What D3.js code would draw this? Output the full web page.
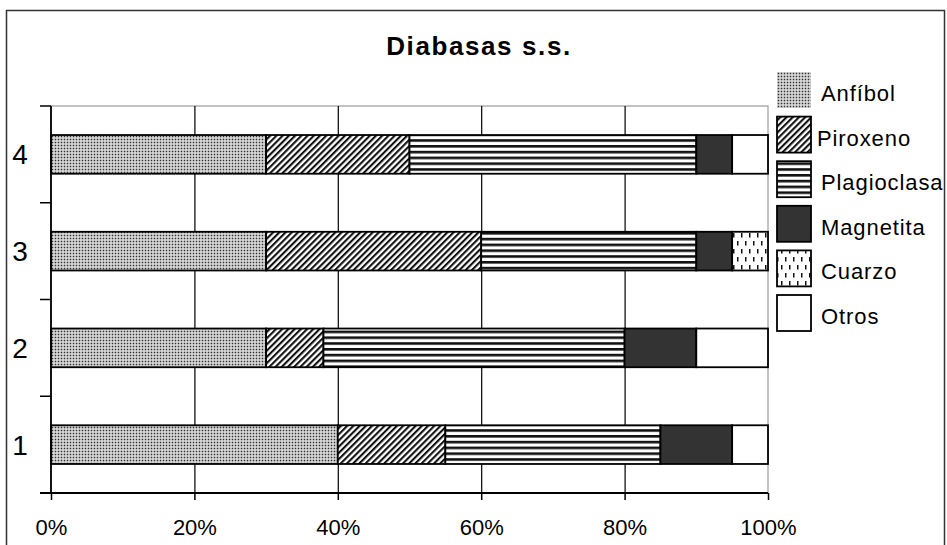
<!DOCTYPE html>
<html><head><meta charset="utf-8">
<script src="https://cdn.jsdelivr.net/npm/d3@7"></script>
<style>
body{margin:0;background:#fff}
svg{display:block}
text{font-family:"Liberation Sans",Arial,sans-serif;fill:#000}
</style>
</head><body><svg id="c" width="947" height="545"></svg>
<script>
// ---------- data ----------
const categories = ["1", "2", "3", "4"];
const seriesNames = ["Anfíbol", "Piroxeno", "Plagioclasa", "Magnetita", "Cuarzo", "Otros"];
const anfibol     = [40, 30, 30, 30];
const piroxeno    = [15,  8, 30, 20];
const plagioclasa = [30, 42, 30, 40];
const magnetita   = [10, 10,  5,  5];
const cuarzo      = [ 0,  0,  5,  0];
const otros       = [ 5, 10,  0,  5];
const xTickValues = [0, 20, 40, 60, 80, 100];
const chartTitle = "Diabasas s.s.";

const seriesValues = [anfibol, piroxeno, plagioclasa, magnetita, cuarzo, otros];
const table = categories.map((c, i) => {
  const row = {cat: c};
  seriesNames.forEach((s, j) => row[s] = seriesValues[j][i]);
  return row;
});

// ---------- layout ----------
const plot = {left: 51, right: 768, top: 106, bottom: 493};
const svg = d3.select("#c");

// outer frame
svg.append("rect").attr("x", 6.5).attr("y", 10.5).attr("width", 938).attr("height", 560)
  .attr("fill", "#fff").attr("stroke", "#333").attr("stroke-width", 1.5);

// ---------- patterns ----------
const defs = svg.append("defs");
const pDots = defs.append("pattern").attr("id", "p-dots").attr("patternUnits", "userSpaceOnUse")
  .attr("width", 3).attr("height", 3);
pDots.append("rect").attr("width", 3).attr("height", 3).attr("fill", "#e4e4e4");
pDots.append("rect").attr("x", 0.7).attr("y", 0.7).attr("width", 1.6).attr("height", 1.6).attr("fill", "#333");

const pDiag = defs.append("pattern").attr("id", "p-diag").attr("patternUnits", "userSpaceOnUse")
  .attr("width", 4.4).attr("height", 4.4).attr("patternTransform", "rotate(45)");
pDiag.append("rect").attr("width", 4.4).attr("height", 4.4).attr("fill", "#fff");
pDiag.append("rect").attr("width", 2.1).attr("height", 4.4).attr("fill", "#111");

const pH = defs.append("pattern").attr("id", "p-hlines").attr("patternUnits", "userSpaceOnUse")
  .attr("width", 8).attr("height", 5.8);
pH.append("rect").attr("width", 8).attr("height", 5.8).attr("fill", "#fff");
pH.append("rect").attr("y", 0).attr("width", 8).attr("height", 2.6).attr("fill", "#111");

const pQ = defs.append("pattern").attr("id", "p-cuarzo").attr("patternUnits", "userSpaceOnUse")
  .attr("width", 8).attr("height", 16);
pQ.append("rect").attr("width", 8).attr("height", 16).attr("fill", "#fff");
pQ.append("rect").attr("x", 1).attr("y", 1).attr("width", 1.5).attr("height", 4.5).attr("fill", "#111");
pQ.append("rect").attr("x", 5).attr("y", 9).attr("width", 1.5).attr("height", 4.5).attr("fill", "#111");

const fills = ["url(#p-dots)", "url(#p-diag)", "url(#p-hlines)", "#333333", "url(#p-cuarzo)", "#ffffff"];
const color = d3.scaleOrdinal().domain(seriesNames).range(fills);

// ---------- scales ----------
const x = d3.scaleLinear().domain([0, 100]).range([plot.left, plot.right]);
const y = d3.scaleBand().domain(categories.slice().reverse())
  .range([plot.top, plot.bottom]).paddingInner(0.6).paddingOuter(0.3);

// plot border (gray)
svg.append("rect").attr("x", plot.left).attr("y", plot.top)
  .attr("width", plot.right - plot.left).attr("height", plot.bottom - plot.top)
  .attr("fill", "none").attr("stroke", "#888").attr("stroke-width", 1);

// gridlines
svg.append("g").selectAll("line").data(xTickValues.filter(d => d > 0 && d < 100)).join("line")
  .attr("x1", d => x(d) + 0.5).attr("x2", d => x(d) + 0.5)
  .attr("y1", plot.top).attr("y2", plot.bottom)
  .attr("stroke", "#000").attr("stroke-width", 1.2);

// y ticks at band edges
const yEdges = categories.map((c, i) => plot.top + i * y.step()).concat([plot.bottom]);
svg.append("g").selectAll("line").data(yEdges).join("line")
  .attr("x1", plot.left - 11).attr("x2", plot.left)
  .attr("y1", d => d).attr("y2", d => d)
  .attr("stroke", "#000").attr("stroke-width", 1.5);

// ---------- bars ----------
const stacked = d3.stack().keys(seriesNames)(table);
svg.append("g").selectAll("g").data(stacked).join("g")
  .attr("fill", d => color(d.key))
  .selectAll("rect").data(d => d.filter(v => v[1] - v[0] > 0)).join("rect")
  .attr("x", d => x(d[0]))
  .attr("y", d => y(d.data.cat))
  .attr("width", d => x(d[1]) - x(d[0]))
  .attr("height", y.bandwidth())
  .attr("stroke", "#000").attr("stroke-width", 1.8);

// ---------- axes ----------
const xAxis = d3.axisBottom(x).tickValues(xTickValues).tickSize(7).tickFormat(d => d + "%");
const gx = svg.append("g").attr("transform", `translate(0,${plot.bottom})`).call(xAxis);
gx.select(".domain").remove();
gx.selectAll(".tick line").attr("stroke", "#000").attr("stroke-width", 1.5);
gx.selectAll(".tick text").attr("y", 42).attr("dy", 0)
  .style("font-size", "22px").style("font-family", '"Liberation Sans",Arial,sans-serif').attr("fill", "#000");
svg.append("line").attr("x1", plot.left - 11).attr("x2", plot.right)
  .attr("y1", plot.bottom).attr("y2", plot.bottom).attr("stroke", "#000").attr("stroke-width", 1.8);
svg.append("line").attr("x1", plot.left).attr("x2", plot.left)
  .attr("y1", plot.top).attr("y2", plot.bottom).attr("stroke", "#000").attr("stroke-width", 1.8);

// y labels
svg.append("g").selectAll("text").data(categories).join("text")
  .attr("x", 20).attr("y", d => y(d) + y.bandwidth() / 2 + 10)
  .attr("text-anchor", "middle").style("font-size", "28px").text(d => d);

// title
svg.append("text").attr("x", 479).attr("y", 55).attr("text-anchor", "middle")
  .style("font-size", "26px").style("font-weight", "bold").style("letter-spacing", "1.6px")
  .text(chartTitle);

// ---------- legend ----------
const lg = svg.append("g");
const legTop = 90, legStep = 44.6, swH = 36, swW = 34;
seriesNames.forEach((s, i) => {
  const cy = legTop + i * legStep;
  lg.append("rect").attr("x", 777).attr("y", cy - swH / 2).attr("width", swW).attr("height", swH)
    .attr("fill", color(s)).attr("stroke", i === 0 ? "none" : "#000").attr("stroke-width", 1.8);
  lg.append("text").attr("x", i === 1 ? 817 : 821).attr("y", cy + 11)
    .style("font-size", "22px").style("letter-spacing", "0.9px").text(s);
});
</script>
</body></html>
